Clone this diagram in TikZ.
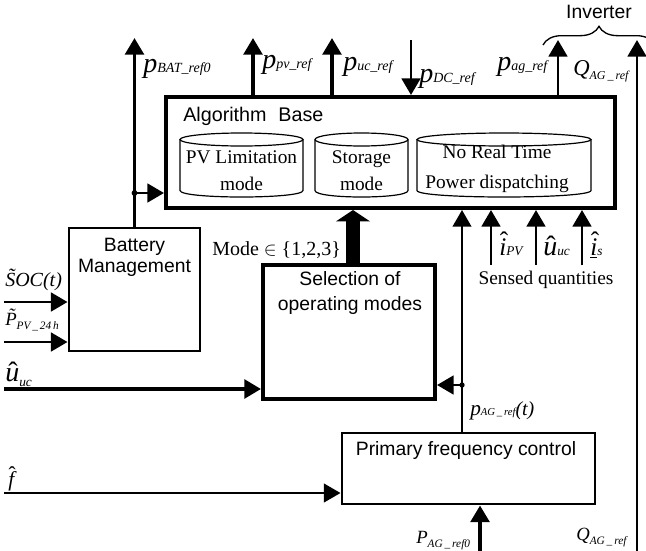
\documentclass[tikz,border=0pt]{standalone}
\usepackage{fontspec}
\setmainfont{Liberation Serif}
\newfontfamily\arialf{Liberation Sans}
\usetikzlibrary{arrows.meta,decorations.pathreplacing}
\newcommand\fs[1]{\fontsize{#1}{#1}\selectfont}
\newcommand\fsl[2]{\fontsize{#1}{#2}\selectfont}
\newcommand\mi[2]{{\fs{#1}\itshape #2}}
\newcommand\si[3][0pt]{\raisebox{#1}{\fs{#2}\itshape #3}}
\newcommand\hatit[3]{\ooalign{#1\cr\hidewidth\kern#2\raisebox{#3}{\upshape\char"02C6}\hidewidth\cr}}
\newcommand\cyl[5]{% x1 y1 x2 y2 ry
  \draw[line width=0.9pt] (#1,#2+#5) -- (#1,#4-#5) .. controls (#1,#4+#5/3) and (#3,#4+#5/3) .. (#3,#4-#5) -- (#3,#2+#5);
  \draw[line width=0.9pt] ({(#1+#3)/2},#2+#5) ellipse [x radius={(#3-#1)/2*0.75pt}, y radius={#5*0.75pt}];
}
\begin{document}
\begin{tikzpicture}[x=0.75pt,y=-0.75pt,
  sans/.style={font={\arialf\fs{14.5}}, align=center, inner sep=0pt},
  serif/.style={font={\fs{14.5}}, align=center, inner sep=0pt},
  lab/.style={anchor=base west, inner sep=0pt},
  arr/.style={-{Triangle[width=14pt,length=12.5pt]}},
  thickbox/.style={draw, line width=3pt, inner sep=0pt},
  medbox/.style={draw, line width=2.2pt, inner sep=0pt},
  lwA/.style={line width=2.8pt},
  lwB/.style={line width=2.2pt},
  lwC/.style={line width=1.5pt}]
\useasboundingbox (0,0) rectangle (646,550);

% boxes
\node[thickbox, minimum width=336.75pt, minimum height=83.25pt] (algo) at (390.5,152.5) {};
\node[medbox, minimum width=98.25pt, minimum height=92.25pt] (batt) at (134.5,289.5) {};
\node[thickbox, minimum width=129pt, minimum height=100.5pt] (sel) at (349,332) {};
\node[medbox, minimum width=189.75pt, minimum height=53.25pt] (prim) at (468.5,468.5) {};

% box texts
\node[anchor=base west, inner sep=0pt, font={\arialf\fontsize{14.8}{17}\selectfont}] (algot) at (183,121) {Algorithm\hspace{0.6em}Base};
\node[sans, font={\arialf\fsl{14.5}{15.75}}] (battt) at (134.5,257.5) {Battery\\Management};
\node[sans, font={\arialf\fsl{14.5}{18.75}}] (selt) at (350,292.5) {Selection of\\operating modes};
\node[sans] (primt) at (466,450) {Primary frequency control};

% cylinders
\cyl{180}{133}{303}{197}{6.5}
\cyl{315}{133}{408}{197}{6.5}
\cyl{417}{133}{591}{197}{6.5}
\node[serif, font={\fsl{14.5}{20.5}}] (pvl) at (241.5,171) {PV Limitation\\mode};
\node[serif, font={\fsl{14.5}{20.5}}] (stor) at (361.5,171) {Storage\\mode};
\node[serif, font={\fsl{14.5}{23}}] (nrt) at (497,169) {No Real Time\\Power dispatching};

% top arrows
\coordinate (tbat) at (134.5,38);
\coordinate (jb) at (134.5,193);
\coordinate (tpv) at (253,38);
\coordinate (tuc) at (332,38);
\coordinate (tdc) at (411,40);
\coordinate (tag) at (558,40);
\coordinate (tq) at (637,40);
\coordinate (bq) at (637,553);
\draw[arr,lwA] (batt.north) -- (tbat);
\draw[arr,lwB] (jb) -- (jb -| algo.west);
\fill (jb) circle[radius=2.2pt];
\draw[arr,lwA] (tpv |- algo.north) -- (tpv);
\draw[arr,lwA] (tuc |- algo.north) -- (tuc);
\draw[arr,lwB] (tdc) -- (tdc |- algo.north);
\draw[arr,lwB] (tag |- algo.north) -- (tag);
\draw[arr,lwB] (bq) -- (tq);

% inverter brace
\draw[line width=1pt, decorate, decoration={brace, amplitude=14pt}] (543,45) -- (655,45);
\node[sans, font={\arialf\fs{14.5}}] (inv) at (599,12) {Inverter};

% top labels
\node[lab] (lbat) at (143,72) {\mi{21}{p}\si{10.5}{BAT\_ref0}};
\node[lab] (lpv) at (262,68) {\mi{21}{p}\si{10.5}{pv\_ref}};
\node[lab] (luc) at (343,70) {\mi{21}{p}\si{10.5}{uc\_ref}};
\node[lab] (ldc) at (419,82) {\mi{21}{p}\si{10.5}{DC\_ref}};
\node[lab] (lag) at (497,70) {\mi{21}{p}\si{10.5}{ag\_ref}};
\node[lab] (lqt) at (573,75) {\mi{17}{Q}\si[-3pt]{9}{AG\,\_\,ref}};

% mode arrow
\coordinate (mx) at (353,0);
\draw[line width=10.5pt, -{Triangle[width=25pt,length=8.5pt]}] (sel.north -| mx) -- (algo.south -| mx);
\node[serif, anchor=west, font={\fs{15}}] (mode) at (212,250) {Mode $\in$ \{1,2,3\}};

% feedback line from primary control
\coordinate (vx) at (462,0);
\coordinate (j2) at (462,385);
\draw[arr,lwC] (prim.north -| vx) -- (algo.south -| vx);
\draw[arr,lwB] (j2) -- (j2 -| sel.east);
\fill (j2) circle[radius=2pt];
\node[lab] (lpag) at (470,415) {\mi{16}{p}\si{8}{AG\,\_\,ref}\mi{15}{(t)}};

% sensed quantities
\coordinate (s1) at (491,265);
\coordinate (s2) at (536,265);
\coordinate (s3) at (582,265);
\draw[arr,lwB] (s1) -- (s1 |- algo.south);
\draw[arr,lwB] (s2) -- (s2 |- algo.south);
\draw[arr,lwB] (s3) -- (s3 |- algo.south);
\node[lab] (li) at (499,255) {\mi{19}{\hatit{i}{0.1em}{0.22em}}\si{10}{PV}};
\node[lab] (lu) at (543,255) {\mi{21}{\hatit{u}{0.05em}{0em}}\si{10}{uc}};
\node[lab] (ls) at (590,255) {\mi{19}{\underline{\hatit{i}{0.1em}{0.22em}}}\si{10}{s}};
\node[serif] (sq) at (546,280) {Sensed quantities};

% left inputs
\coordinate (isoc) at (4,302);
\coordinate (ipv) at (4,342);
\coordinate (iuc) at (4,389);
\coordinate (if) at (4,493);
\draw[arr,lwB] (isoc) -- (isoc -| batt.west);
\draw[arr,lwB] (ipv) -- (ipv -| batt.west);
\draw[arr,lwA] (iuc) -- (iuc -| sel.west);
\draw[arr,lwC] (if) -- (if -| prim.west);
\node[lab] (lsoc) at (5,286) {\mi{15}{\~{S}OC(t)}};
\node[lab] (lp24) at (5,325) {\mi{14}{\~{P}}\si[-3pt]{8.5}{PV\,\_\,24\,h}};
\node[lab] (luc2) at (5,381) {\mi{21}{\hatit{u}{0.05em}{0em}}\si[-4pt]{10}{uc}};
\node[lab] (lf) at (8,486) {\mi{16}{\hatit{f}{0.1em}{0.22em}}};

% bottom inputs
\coordinate (bp) at (480,553);
\draw[arr,lwA] (bp) -- (bp |- prim.south);
\node[lab] (lp0) at (416,543) {\mi{14}{P}\si[-3pt]{8.5}{AG\,\_\,ref0}};
\node[lab] (lqb) at (576,540) {\mi{14}{Q}\si[-3pt]{8.5}{AG\,\_\,ref}};
\end{tikzpicture}
\end{document}
